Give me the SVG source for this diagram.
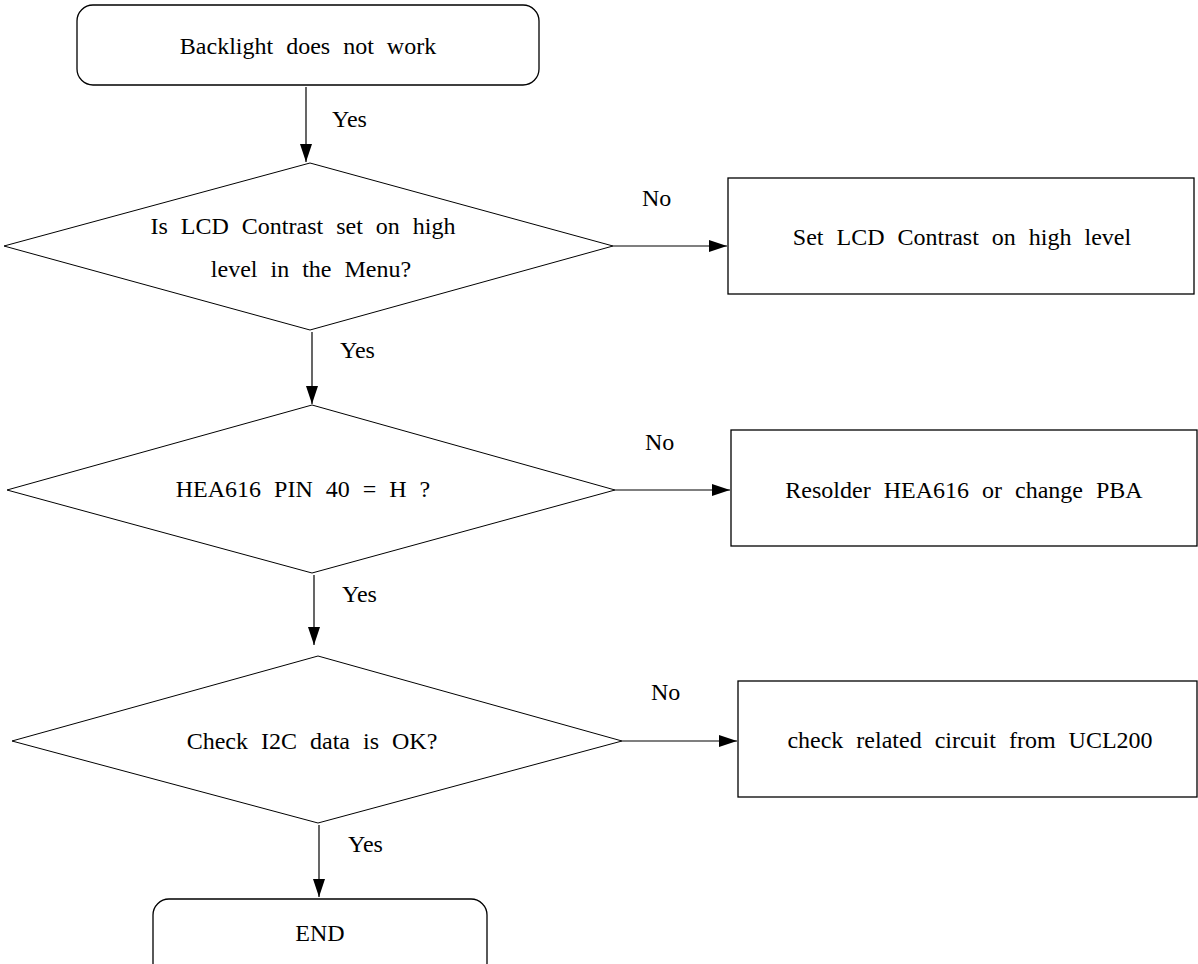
<svg xmlns="http://www.w3.org/2000/svg" width="1198" height="964" viewBox="0 0 1198 964">
<defs>
<marker id="ah" markerUnits="userSpaceOnUse" markerWidth="20" markerHeight="12" refX="18" refY="6" orient="auto">
<path d="M0,0 L18,6 L0,12 Z" fill="#000"/>
</marker>
<style>
.box{fill:#fff;stroke:#000;stroke-width:1.3}
.dia{fill:#fff;stroke:#000;stroke-width:1}
.t{font-family:"Liberation Serif","DejaVu Serif",serif;font-size:24px;fill:#000;word-spacing:7px}
.c{text-anchor:middle}
.ln{stroke:#000;stroke-width:1.2;fill:none}
</style>
</defs>
<rect width="1198" height="964" fill="#fff"/>
<g id="connectors">
<line class="ln" x1="306" y1="87" x2="306" y2="162" marker-end="url(#ah)"/>
<text class="t" x="332" y="127">Yes</text>
<line class="ln" x1="613" y1="246" x2="727" y2="246" marker-end="url(#ah)"/>
<text class="t" x="642" y="206">No</text>
<line class="ln" x1="312" y1="332" x2="312" y2="404" marker-end="url(#ah)"/>
<text class="t" x="340" y="358">Yes</text>
<line class="ln" x1="615" y1="490" x2="730" y2="490" marker-end="url(#ah)"/>
<text class="t" x="645" y="450">No</text>
<line class="ln" x1="314" y1="575" x2="314" y2="645" marker-end="url(#ah)"/>
<text class="t" x="342" y="602">Yes</text>
<line class="ln" x1="622" y1="741" x2="737" y2="741" marker-end="url(#ah)"/>
<text class="t" x="651" y="700">No</text>
<line class="ln" x1="319" y1="825" x2="319" y2="897" marker-end="url(#ah)"/>
<text class="t" x="348" y="852">Yes</text>
</g>
<g id="start">
<rect class="box" x="77" y="5" width="462" height="80" rx="16"/>
<text class="t c" x="308" y="54">Backlight does not work</text>
</g>
<g id="d1">
<polygon class="dia" points="310,163 613,246 310,330 4,246"/>
<text class="t c" x="303" y="234">Is LCD Contrast set on high</text>
<text class="t c" x="311" y="277">level in the Menu?</text>
</g>
<g id="b1">
<rect class="box" x="728" y="178" width="466" height="116"/>
<text class="t c" x="962" y="245">Set LCD Contrast on high level</text>
</g>
<g id="d2">
<polygon class="dia" points="312,405 615,490 312,573 7,490"/>
<text class="t c" x="303" y="497">HEA616 PIN 40 = H ?</text>
</g>
<g id="b2">
<rect class="box" x="731" y="430" width="466" height="116"/>
<text class="t c" x="964" y="498">Resolder HEA616 or change PBA</text>
</g>
<g id="d3">
<polygon class="dia" points="318,656 622,741 318,823 12,741"/>
<text class="t c" x="312" y="749">Check I2C data is OK?</text>
</g>
<g id="b3">
<rect class="box" x="738" y="681" width="459" height="116"/>
<text class="t c" x="970" y="748">check related circuit from UCL200</text>
</g>
<g id="end">
<rect class="box" x="153" y="899" width="334" height="80" rx="16"/>
<text class="t c" x="320" y="941">END</text>
</g>
</svg>
